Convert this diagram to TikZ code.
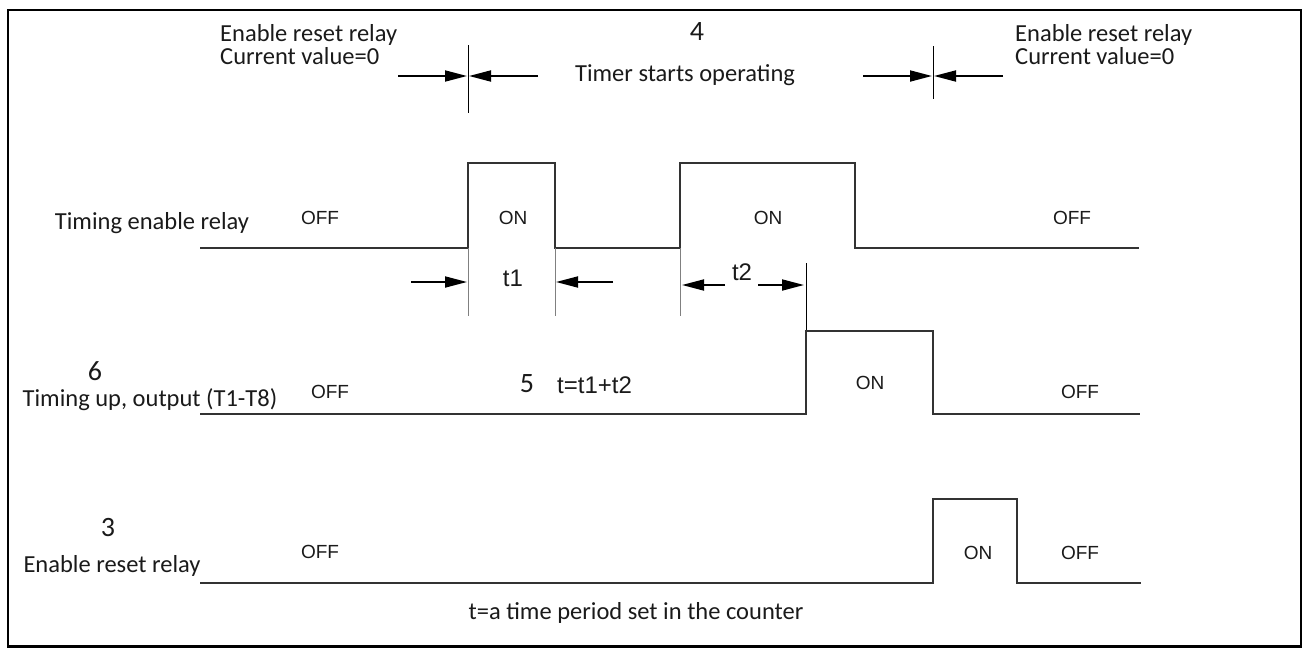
\documentclass[tikz,border=0pt]{standalone}
\usepackage{fontspec}
\setmainfont{Carlito}
\newfontfamily\statefont{Liberation Sans}
\usepackage{tikz}
\usetikzlibrary{arrows.meta, positioning}
\definecolor{wave}{HTML}{333333}
\definecolor{guide}{HTML}{808080}
\definecolor{ink}{HTML}{1A1A1A}

\begin{document}
\begin{tikzpicture}[x=1pt, y=-1pt,
    lbl/.style={inner sep=0pt, text=ink, font=\fontsize{24.5}{23}\selectfont},
    numlbl/.style={inner sep=0pt, text=ink, font=\fontsize{28}{30}\selectfont},
    state/.style={inner sep=0pt, text=ink, font=\statefont\fontsize{19}{20}\selectfont},
    tlbl/.style={inner sep=0pt, text=ink, font=\statefont\fontsize{24}{26}\selectfont},
    signal/.style={draw=wave, line width=2pt},
    guideline/.style={draw=guide, line width=1pt},
    marker/.style={draw=black, line width=0.9pt},
    dimarrow/.style={draw=black, line width=1.8pt, -{Triangle[length=22pt, width=11pt]}}]
  \useasboundingbox (0,0) rectangle (1308,648);
  \draw[line width=2.4pt] (8,10) rectangle (1301,646.5);

  % top: reset / start markers
  \node[lbl, anchor=base west, align=left] (resetL) at (220,64) {Enable reset relay\\Current value=0};
  \node[lbl, anchor=base west, align=left] (resetR) at (1015,64) {Enable reset relay\\Current value=0};
  \node[numlbl, anchor=base] (n4) at (697,40) {4};
  \node[lbl, anchor=base] (start) at (685,81) {Timer starts operating};
  \draw[marker] (468,45) -- (468,113);
  \draw[marker] (933,46) -- (933,99);
  \coordinate (aL1) at (398,76); \coordinate (aL2) at (467,76);
  \coordinate (aL3) at (538,76); \coordinate (aL4) at (469,76);
  \coordinate (aR1) at (863,76); \coordinate (aR2) at (932,76);
  \coordinate (aR3) at (1003,76); \coordinate (aR4) at (934,76);
  \draw[dimarrow] (aL1) -- (aL2);
  \draw[dimarrow] (aL3) -- (aL4);
  \draw[dimarrow] (aR1) -- (aR2);
  \draw[dimarrow] (aR3) -- (aR4);

  % row 1: timing enable relay
  \node[lbl, anchor=base] (row1) at (152,229) {Timing enable relay};
  \draw[signal] (200,248) -- (468,248) -- (468,163) -- (555,163) -- (555,248)
    -- (680,248) -- (680,163) -- (855,163) -- (855,248) -- (1139,248);
  \node[state] (off1a) at (320,218) {OFF};
  \node[state] (on1a) at (513,218) {ON};
  \node[state] (on1b) at (768,218) {ON};
  \node[state] (off1b) at (1072,218) {OFF};
  \draw[guideline] (468,248) -- (468,316);
  \draw[guideline] (555,248) -- (555,316);
  \draw[guideline] (680,248) -- (680,316);
  \draw[marker] (806,263) -- (806,331);
  \node[tlbl] (t1) at (513,278) {t1};
  \node[tlbl] (t2) at (742,272) {t2};
  \coordinate (b1) at (411,282); \coordinate (b2) at (467,282);
  \coordinate (b3) at (613,282); \coordinate (b4) at (556,282);
  \coordinate (c1) at (725,285); \coordinate (c2) at (682,285);
  \coordinate (c3) at (758,285); \coordinate (c4) at (804,285);
  \draw[dimarrow] (b1) -- (b2);
  \draw[dimarrow] (b3) -- (b4);
  \draw[dimarrow] (c1) -- (c2);
  \draw[dimarrow] (c3) -- (c4);

  % row 2: timing up output
  \node[numlbl, anchor=base] (n6) at (95,380) {6};
  \node[lbl, anchor=base] (row2) at (150,406) {Timing up, output (T1-T8)};
  \draw[signal] (200,414) -- (806,414) -- (806,331) -- (933,331) -- (933,414) -- (1140,414);
  \node[state] (off2a) at (330,392) {OFF};
  \node[numlbl, anchor=base] (n5) at (527,392) {5};
  \node[tlbl, anchor=west] (tsum) at (557,385) {t=t1+t2};
  \node[state] (on2) at (870,383) {ON};
  \node[state] (off2b) at (1080,392) {OFF};

  % row 3: enable reset relay
  \node[numlbl, anchor=base] (n3) at (108,536) {3};
  \node[lbl, anchor=base] (row3) at (112,572) {Enable reset relay};
  \draw[signal] (200,583) -- (933,583) -- (933,499) -- (1017,499) -- (1017,583) -- (1141,583);
  \node[state] (off3a) at (320,552) {OFF};
  \node[state] (on3) at (978,553) {ON};
  \node[state] (off3b) at (1080,553) {OFF};
  \node[lbl] (note) at (636,613) {t=a time period set in the counter};
\end{tikzpicture}
\end{document}
